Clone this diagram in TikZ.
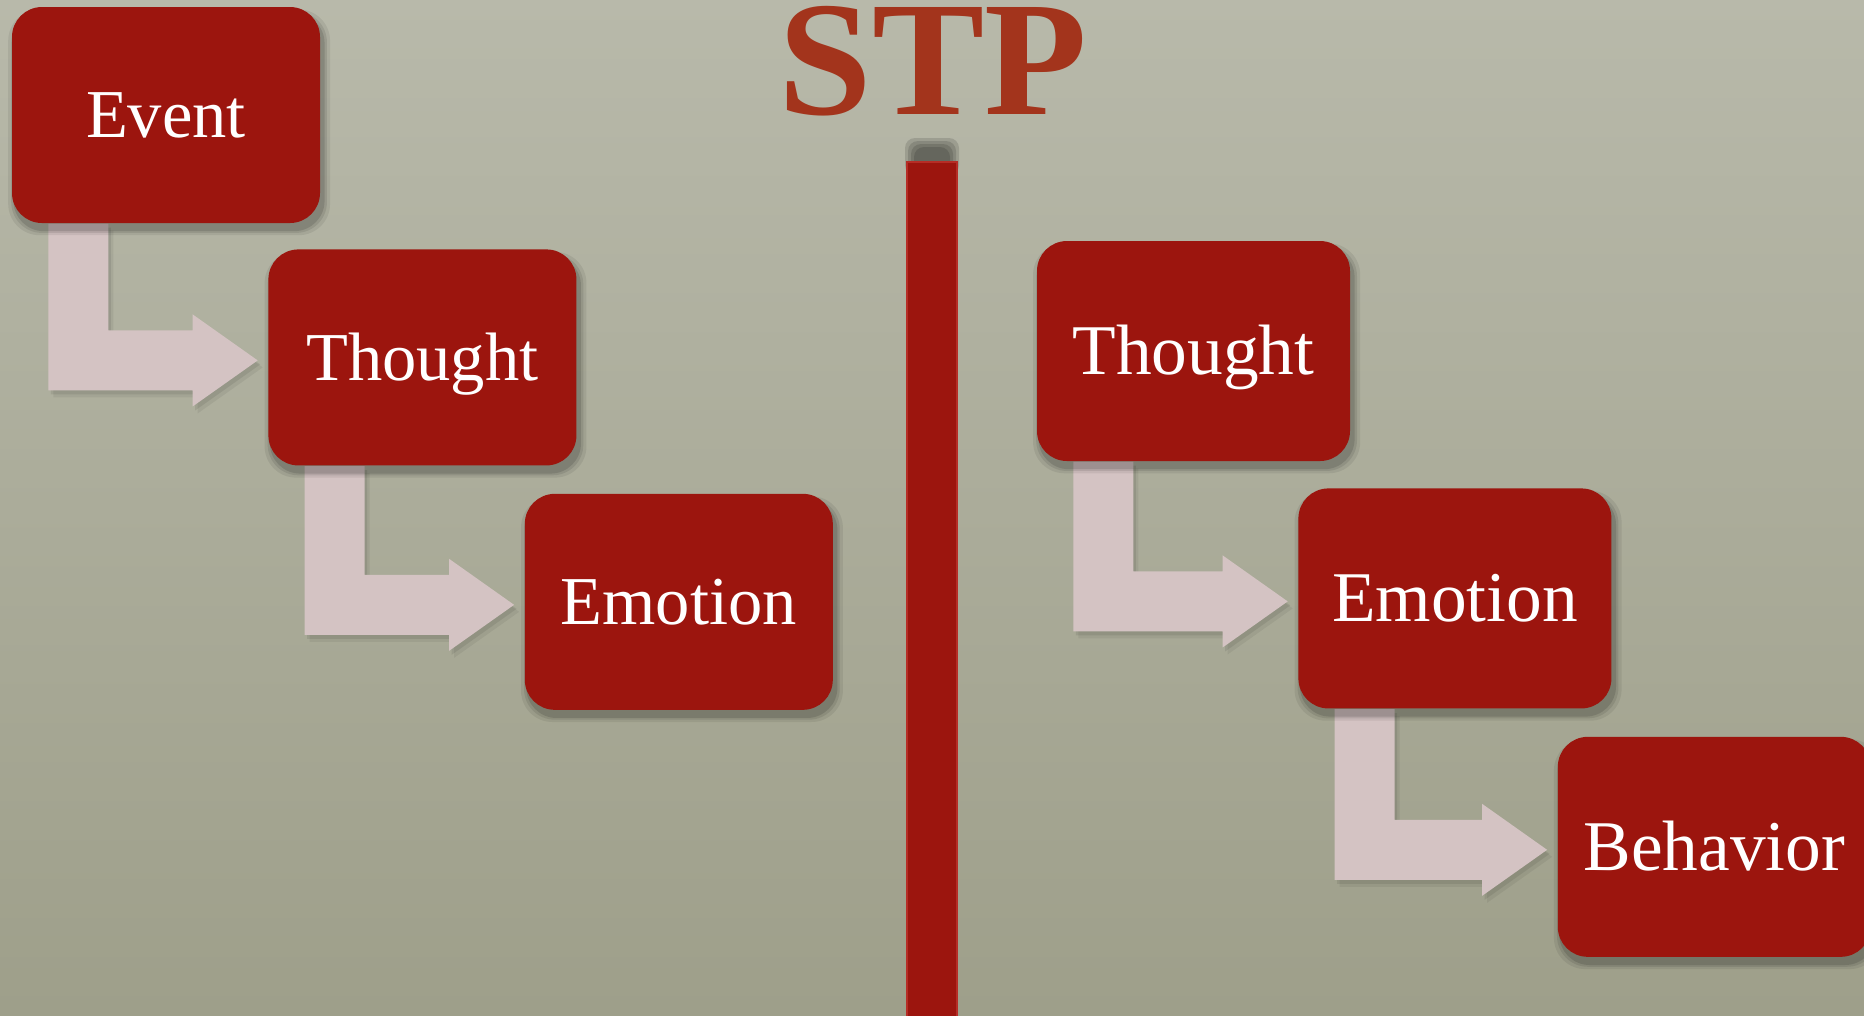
\documentclass[tikz,border=0pt]{standalone}
\usepackage{fontspec}
\setmainfont{Liberation Serif}
\usepackage{tikz}
\definecolor{myred}{RGB}{156,21,14}
\definecolor{myrededge}{RGB}{182,45,38}
\definecolor{mypink}{RGB}{212,195,195}
\definecolor{myrust}{RGB}{163,52,28}
\definecolor{mybgtop}{RGB}{184,185,170}
\definecolor{mybgbottom}{RGB}{158,159,138}
\usetikzlibrary{calc,positioning,backgrounds,shadows}

\begin{document}
\begin{tikzpicture}[
  softshadow/.style={
    general shadow={fill=black, fill opacity=0.07, shadow scale=1.045, shadow xshift=0.3mm, shadow yshift=-0.7mm},
    general shadow={fill=black, fill opacity=0.09, shadow scale=1.025, shadow xshift=0.3mm, shadow yshift=-0.7mm},
    general shadow={fill=black, fill opacity=0.12, shadow scale=1.01, shadow xshift=0.3mm, shadow yshift=-0.7mm}
    },
  redbox/.style={
    fill=myred,
    rounded corners=0.3cm,
    minimum width=3.08cm,
    minimum height=2.16cm,
    inner sep=0pt,
    text=white,
    text height=12.9pt,
    text depth=0pt,
    font=\fontsize{19.5}{23}\selectfont,
    softshadow
    },
  redbox wide/.style={
    redbox,
    minimum width=3.13cm,
    minimum height=2.2cm,
    text height=13.4pt,
    font=\fontsize{20.3}{24}\selectfont
    },
  elbow/.style={
    fill=mypink,
    general shadow={fill=black, fill opacity=0.06, shadow xshift=0.5mm, shadow yshift=-0.7mm},
    general shadow={fill=black, fill opacity=0.08, shadow xshift=0.25mm, shadow yshift=-0.4mm}
    }
]

\begin{scope}[on background layer]
\shade[top color=mybgtop, bottom color=mybgbottom] (0,0) rectangle (18.64,-10.15);
\end{scope}
\useasboundingbox (0,0) rectangle (18.64,-10.15);

% title and divider
\node[font=\fontsize{46.5}{54}\selectfont\bfseries, xscale=1.03, inner sep=0pt, text=myrust, anchor=base] (title) at (9.33,-1.14) {STP};
\foreach \d in {0,0.03,0.06,0.09}
  \fill[black, opacity=0.13, rounded corners=1mm] (9.05+\d,-1.38-\d) rectangle (9.59-\d,-1.75);
\fill[myred, draw=myrededge, line width=0.6pt] (9.07,-1.62) rectangle (9.57,-10.4);

% left chain
\node[redbox] (event) at (1.66,-1.15) {Event};
\node[redbox] [below right=0.25cm and -0.53cm of event] (thoughtA) {Thought};
\node[redbox] [below right=0.27cm and -0.53cm of thoughtA] (emotionA) {Emotion};

% right chain
\node[redbox wide] (thoughtB) at (11.935,-3.51) {Thought};
\node[redbox wide] [below right=0.26cm and -0.53cm of thoughtB] (emotionB) {Emotion};
\node[redbox wide] [below right=0.27cm and -0.55cm of emotionB] (behavior) {Behavior};

\begin{scope}[on background layer]
\foreach \from/\to in {event/thoughtA, thoughtA/emotionA, thoughtB/emotionB, emotionB/behavior}
  \fill[elbow] let \p1=(\from.south west), \p2=(\to.west) in
    (\x1+0.37cm,\y1) -- ++(0.6cm,0) |- (\x2-0.75cm,\y2+0.27cm)
    -- (\x2-0.75cm,\y2+0.43cm) -- (\x2-0.10cm,\y2-0.03cm) -- (\x2-0.75cm,\y2-0.49cm)
    -- (\x2-0.75cm,\y2-0.33cm) -| (\x1+0.37cm,\y1) -- cycle;
\end{scope}

\end{tikzpicture}
\end{document}
